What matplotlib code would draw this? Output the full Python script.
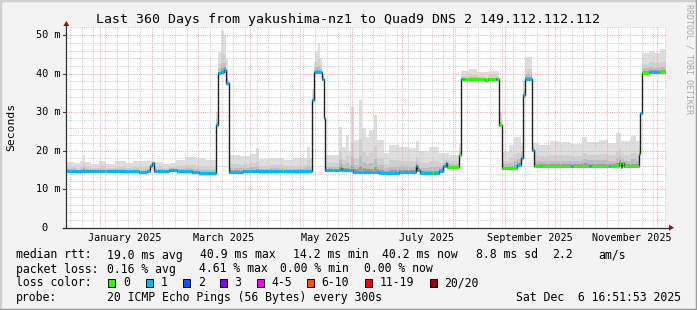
import numpy as np
import matplotlib
matplotlib.use('Agg')
import matplotlib.pyplot as plt
import matplotlib.dates as mdates
from matplotlib.ticker import MultipleLocator
from matplotlib.patches import Rectangle, Polygon
from matplotlib.lines import Line2D
from datetime import datetime

W, H = 697, 310
START = datetime(2024, 12, 11, 16, 51, 53)
SPAN_DAYS = 360

# ---------------- data ----------------
# median rtt breakpoints: days since START, value in ms, loss class of segment
med_days = [0.0, 6.0, 9.0, 13.5, 14.4, 19.5, 20.4, 23.4, 24.6, 34.2, 43.8, 48.6,
            50.4, 51.6, 52.5, 55.8, 61.8, 66.6, 75.6, 79.8, 89.8, 91.2, 93.0,
            94.8, 96.0, 97.4, 106.0, 115.8, 129.6, 130.8, 147.2, 148.5, 153.4,
            154.8, 155.4, 159.6, 160.8, 164.8, 165.6, 172.2, 187.8, 199.8,
            209.8, 210.6, 212.4, 219.6, 220.4, 223.8, 226.2, 228.0, 228.6,
            235.8, 236.8, 237.5, 238.4, 251.4, 253.0, 257.6, 258.4, 259.8,
            261.4, 270.4, 272.8, 274.2, 275.4, 279.4, 280.4, 285.0, 302.8,
            303.8, 313.8, 314.8, 325.4, 326.4, 331.8, 332.6, 333.6, 334.6,
            343.4, 344.2, 345.4, 349.8, 355.8, 360.0]
med_vals = [14.8, 14.6, 14.8, 14.8, 14.8, 14.8, 14.8, 14.8, 14.8, 14.6, 14.4, 14.8,
            16.0, 16.9, 14.8, 14.6, 15.0, 14.6, 14.4, 14.1, 26.7, 40.1, 40.5,
            40.9, 37.5, 14.5, 14.7, 14.6, 14.6, 14.6, 33.2, 40.4, 38.6,
            28.6, 15.0, 15.0, 15.0, 15.6, 14.9, 14.5, 14.3, 14.5,
            16.0, 15.0, 14.3, 14.2, 14.2, 14.8, 16.0, 16.7, 15.8,
            18.9, 38.5, 38.6, 38.5, 38.3, 38.5, 38.6, 38.5, 26.7,
            15.6, 16.2, 18.0, 34.5, 38.6, 20.2, 16.1, 16.0, 16.1,
            16.1, 16.1, 16.1, 16.1, 16.1, 16.9, 15.8, 16.7, 16.0,
            19.1, 29.7, 40.3, 40.5, 40.4, 40.4]
med_loss = [1, 1, 1, 0, 1, 0, 1, 0, 1, 1, 1, 1,
            1, 1, 1, 1, 1, 1, 1, 1, 1, 1, 1,
            1, 1, 1, 1, 1, 0, 1, 1, 1, 1,
            1, 1, 0, 1, 0, 1, 1, 1, 1,
            1, 1, 1, 0, 1, 1, 1, 1, 0,
            0, 0, 1, 0, 0, 0, 1, 0, 0,
            0, 1, 1, 1, 1, 1, 0, 0, 1,
            0, 1, 0, 1, 0, 0, 1, 0, 0,
            0, 1, 0, 1, 0]

# upper edge of the smoke (slowest pings), days since START, ms
smoke_days = [0.0, 4.8, 8.0, 10.2, 11.4, 15.0, 19.8, 24.0, 29.0, 36.0, 40.0, 44.0,
              49.8, 53.4, 58.0, 62.0, 66.0,
              71.4, 78.0, 84.0, 89.8, 91.2, 92.8, 94.8, 96.0, 96.8, 97.4,
              104.0, 110.0, 114.0, 115.8, 122.0, 130.8, 136.0, 142.8, 144.6, 146.4,
              147.2, 148.5, 149.4,
              150.9, 152.4, 153.6, 154.8, 155.4, 163.8, 165.6, 168.0, 169.8,
              171.0, 172.8, 175.8, 177.6, 180.0, 181.8, 184.8, 186.6, 190.8,
              193.8, 199.8, 205.8, 210.0, 211.8, 217.8, 223.8, 229.8, 235.8,
              236.8, 241.8, 246.6, 253.8, 259.8, 261.4, 265.8, 268.8, 272.8,
              274.2, 275.4, 279.4, 283.8, 290.0, 295.8, 302.0, 309.6, 312.6, 319.8,
              325.0, 330.0, 333.0, 339.0, 342.0, 344.2, 345.4, 349.8, 352.8, 356.4,
              360.0]
smoke_top = [17.1, 16.8, 17.4, 18.9, 17.0, 16.6, 17.4, 16.6, 17.2, 16.8, 17.4, 17.3,
             17.2, 17.0, 16.6, 16.8, 17.6,
             18.4, 18.0, 17.6, 30.0, 45.7, 51.3, 50.0, 44.0, 38.4, 19.0,
             18.6, 19.2, 20.6, 17.8, 18.2, 17.5, 18.0, 18.2, 21.0, 18.0,
             36.0, 43.0, 46.0,
             47.9, 44.0, 40.0, 30.0, 19.0, 26.2, 21.0, 24.0, 20.0,
             31.4, 22.7, 33.2, 26.0, 23.6, 25.3, 29.3, 22.8, 19.5,
             21.5, 21.0, 20.7, 22.5, 20.0, 21.0, 19.5, 19.0, 22.0,
             40.6, 41.1, 40.4, 40.8, 30.0, 19.7, 21.5, 23.6, 22.0,
             38.0, 44.4, 22.0, 21.6, 22.6, 22.3, 21.8, 23.6, 22.3, 22.8,
             22.0, 24.7, 22.5, 23.8, 22.5, 30.0, 45.3, 46.0, 45.3, 46.5,
             46.5]

y_ticks = [0, 10, 20, 30, 40, 50]
y_tick_labels = ['0  ', '10 m', '20 m', '30 m', '40 m', '50 m']
month_labels = ['January 2025', 'March 2025', 'May 2025', 'July 2025',
                'September 2025', 'November 2025']
month_label_dates = [datetime(2025, 1, 16), datetime(2025, 3, 16), datetime(2025, 5, 16),
                     datetime(2025, 7, 16), datetime(2025, 9, 16), datetime(2025, 11, 16)]
loss_labels = ['0', '1', '2', '3', '4-5', '6-10', '11-19', '20/20']
loss_colors = ['#26ff00', '#00b8ff', '#0059ff', '#7e00ff', '#ff00ff', '#ff5500',
               '#ff0000', '#a10000']

title = 'Last 360 Days from yakushima-nz1 to Quad9 DNS 2 149.112.112.112'
rtt_items = ['median rtt:', '19.0 ms avg', '40.9 ms max', '14.2 ms min',
             '40.2 ms now', '8.8 ms sd', '2.2', 'am/s']
loss_items = ['packet loss:', '0.16 % avg', '4.61 % max', '0.00 % min', '0.00 % now']
probe_items = ['probe:', '20 ICMP Echo Pings (56 Bytes) every 300s']
stamp = 'Sat Dec  6 16:51:53 2025'

# ---------------- layout (pixels) ----------------
AX_L, AX_R, AX_T, AX_B = 66.3, 666.3, 27.3, 227.7
rtt_x = [16, 107.3, 200, 293.3, 382, 475.6, 552.4, 598.7]
loss_x = [16, 107.3, 199.3, 280.5, 364.4]
probe_x = [16, 107.3]
box_x = [108.3, 145.7, 183.3, 220.0, 256.7, 306.7, 365.3, 429.8]
row_y = [258.5, 272.5, 286.5, 300.8]

MONO = 'DejaVu Sans Mono'
plt.rcParams['font.family'] = MONO


def fx(x):
    return x / W


def fy(y):
    return 1 - y / H


fig = plt.figure(figsize=(W / 100, H / 100), dpi=100, facecolor='#f3f3f3')
ax = fig.add_axes([fx(AX_L), fy(AX_B), (AX_R - AX_L) / W, (AX_B - AX_T) / H])
ax.set_facecolor('white')
x0 = mdates.date2num(START)
ax.set_xlim(x0, x0 + SPAN_DAYS)
ax.set_ylim(0, 52.05)
for s in ax.spines.values():
    s.set_visible(False)

# ---- smoke ----
md = np.array(med_days)
mv = np.array(med_vals)
sd = np.array(smoke_days)
st = np.array(smoke_top)
grid_days = np.union1d(md, sd)
med_g = mv[np.clip(np.searchsorted(md, grid_days, side='right') - 1, 0, len(mv) - 1)]
top_g = st[np.clip(np.searchsorted(sd, grid_days, side='right') - 1, 0, len(st) - 1)]
gx = x0 + grid_days
layers = [(1.0, 0.6, '#dedede'), (0.45, 0.55, '#d0d0d0'),
          (0.22, 0.5, '#bdbdbd'), (0.08, 0.45, '#9c9c9c')]
for frac, below, col in layers:
    ax.fill_between(gx, med_g - below, med_g + frac * (top_g - med_g),
                    step='post', color=col, lw=0, zorder=1)

# ---- median ----
ax.step(x0 + md, mv, where='post', color='#202020', lw=1.0, zorder=3)
seg_cols = [loss_colors[c] for c in med_loss]
ax.hlines(mv[:-1], x0 + md[:-1], x0 + md[1:], colors=seg_cols, lw=2.1,
          capstyle='butt', zorder=4)

# ---- grid ----
ax.xaxis.set_major_locator(mdates.MonthLocator())
ax.xaxis.set_minor_locator(mdates.WeekdayLocator(byweekday=mdates.SA))
ax.yaxis.set_major_locator(MultipleLocator(10))
ax.yaxis.set_minor_locator(MultipleLocator(2))
ax.set_axisbelow(False)
ax.grid(which='major', color='#f2a6a6', ls=(0, (1, 1.2)), lw=0.72)
ax.grid(which='minor', color='#cdcdcd', ls=(0, (1, 1.2)), lw=0.72)
ax.tick_params(which='both', length=0, labelleft=False, labelbottom=False)

# ---- y tick labels / x month labels ----
ytr = ax.get_yaxis_transform()
for v, lab in zip(y_ticks, y_tick_labels):
    ax.text(-6.0 / (AX_R - AX_L), v, lab, transform=ytr, ha='right', va='center',
            fontsize=7.4, color='black')
    ax.plot([-3.0 / (AX_R - AX_L), 0], [v, v], transform=ytr, color='#404040',
            lw=0.8, clip_on=False)
xtr = ax.get_xaxis_transform()
for d, lab in zip(month_label_dates, month_labels):
    ax.text(mdates.date2num(d), -13.5 / (AX_B - AX_T), lab, transform=xtr,
            ha='center', va='baseline', fontsize=7.3, color='black')

# ---- axis lines with arrows ----
fig.add_artist(Line2D([fx(AX_L), fx(AX_L)], [fy(AX_B + 0.5), fy(24.5)],
                      color='#303030', lw=0.9))
fig.add_artist(Line2D([fx(62.5), fx(669)], [fy(AX_B), fy(AX_B)],
                      color='#303030', lw=0.9))
fig.add_artist(Polygon([(fx(AX_L - 3), fy(26)), (fx(AX_L + 3), fy(26)), (fx(AX_L), fy(21))],
                       closed=True, color='#8b1a1a', lw=0))
fig.add_artist(Polygon([(fx(669), fy(AX_B - 3)), (fx(669), fy(AX_B + 3)), (fx(674), fy(AX_B))],
                       closed=True, color='#8b1a1a', lw=0))

# ---- texts ----
fig.text(0.5, fy(23.5), title, ha='center', va='baseline', fontsize=9.55, color='black')
fig.text(fx(11), fy(127), 'Seconds', rotation=90, ha='center', va='center',
         fontsize=8.2, color='black')
fig.text(fx(688.5), fy(59), 'RRDTOOL / TOBI OETIKER', rotation=270, ha='center',
         va='center', fontsize=6.0, color='#a8a8a8')

LF = 8.3
for s, x in zip(rtt_items, rtt_x):
    fig.text(fx(x), fy(row_y[0]), s, ha='left', va='baseline', fontsize=LF)
for s, x in zip(loss_items, loss_x):
    fig.text(fx(x), fy(row_y[1]), s, ha='left', va='baseline', fontsize=LF)
fig.text(fx(16), fy(row_y[2]), 'loss color:', ha='left', va='baseline', fontsize=LF)
for lab, col, bx in zip(loss_labels, loss_colors, box_x):
    fig.add_artist(Rectangle((fx(bx), fy(row_y[2] + 0.5)), 7 / W, 8.5 / H,
                             facecolor=col, edgecolor='black', lw=0.7))
    fig.text(fx(bx + 14.5), fy(row_y[2]), lab, ha='left', va='baseline', fontsize=LF)
for s, x in zip(probe_items, probe_x):
    fig.text(fx(x), fy(row_y[3]), s, ha='left', va='baseline', fontsize=LF)
fig.text(fx(681), fy(row_y[3]), stamp, ha='right', va='baseline', fontsize=LF)

# ---- frame ----
fig.add_artist(Line2D([0, 0], [0, 1], color='#cfcfcf', lw=2.5))
fig.add_artist(Line2D([0, 1], [1, 1], color='#cfcfcf', lw=2.5))
fig.add_artist(Line2D([1, 1], [0, 1], color='#9e9e9e', lw=2.5))
fig.add_artist(Line2D([0, 1], [0, 0], color='#9e9e9e', lw=2.5))

fig.savefig('out.png', dpi=100, facecolor=fig.get_facecolor())
